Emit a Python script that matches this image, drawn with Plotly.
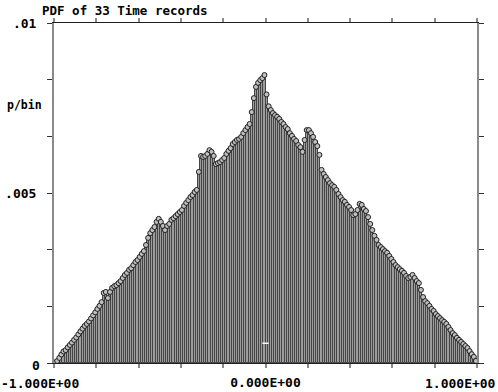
import plotly.graph_objects as go

# PDF values per bin (200 bins from -1 to 1, width 0.01)
pdf_values = [
    0.000015, 0.00006, 0.00015, 0.00025, 0.00034, 0.00038, 0.00046, 0.00053, 0.00060, 0.00068,
    0.00075, 0.00084, 0.00093, 0.00101, 0.00109, 0.00115, 0.00122, 0.00131, 0.00140, 0.00149,
    0.00159, 0.00168, 0.00179, 0.00206, 0.00209, 0.00191, 0.00209, 0.00221, 0.00226, 0.00229,
    0.00235, 0.00241, 0.00250, 0.00259, 0.00265, 0.00274, 0.00279, 0.00288, 0.00297, 0.00303,
    0.00312, 0.00321, 0.00329, 0.00347, 0.00368, 0.00382, 0.00391, 0.00400, 0.00415, 0.00424,
    0.00415, 0.00403, 0.00391, 0.00403, 0.00409, 0.00421, 0.00426, 0.00432, 0.00438, 0.00444,
    0.00450, 0.00462, 0.00471, 0.00479, 0.00488, 0.00494, 0.00503, 0.00509, 0.00562, 0.00609,
    0.00606, 0.00609, 0.00615, 0.00626, 0.00621, 0.00609, 0.00585, 0.00588, 0.00591, 0.00597,
    0.00603, 0.00615, 0.00624, 0.00632, 0.00644, 0.00650, 0.00656, 0.00659, 0.00665, 0.00676,
    0.00685, 0.00694, 0.00703, 0.00738, 0.00779, 0.00812, 0.00824, 0.00832, 0.00838, 0.00847,
    0.00790, 0.00755, 0.00744, 0.00735, 0.00729, 0.00724, 0.00718, 0.00709, 0.00703, 0.00694,
    0.00688, 0.00676, 0.00668, 0.00659, 0.00653, 0.00641, 0.00635, 0.00621, 0.00656, 0.00685,
    0.00685, 0.00676, 0.00665, 0.00650, 0.00638, 0.00612, 0.00568, 0.00556, 0.00547, 0.00538,
    0.00529, 0.00523, 0.00518, 0.00509, 0.00497, 0.00488, 0.00479, 0.00474, 0.00465, 0.00459,
    0.00450, 0.00435, 0.00438, 0.00450, 0.00468, 0.00465, 0.00453, 0.00447, 0.00429, 0.00409,
    0.00391, 0.00374, 0.00362, 0.00347, 0.00341, 0.00335, 0.00329, 0.00324, 0.00315, 0.00306,
    0.00297, 0.00288, 0.00282, 0.00276, 0.00271, 0.00265, 0.00256, 0.00250, 0.00253, 0.00259,
    0.00250, 0.00241, 0.00235, 0.00215, 0.00194, 0.00182, 0.00176, 0.00168, 0.00159, 0.00153,
    0.00144, 0.00138, 0.00132, 0.00126, 0.00121, 0.00115, 0.00106, 0.00097, 0.00088, 0.00082,
    0.00074, 0.00068, 0.00062, 0.00056, 0.00050, 0.00044, 0.00035, 0.00026, 0.00018, 0.00006,
]
bin_start_center = -0.995
bin_width = 0.01

x_tickvals = [-1.0, -0.8, -0.6, -0.4, -0.2, 0.0, 0.2, 0.4, 0.6, 0.8, 1.0]
x_ticktext = ["", "", "", "", "", "0.000E+00", "", "", "", "", ""]
x_end_labels = ["-1.000E+00", "1.000E+00"]
y_tickvals = [0.0, 0.0016667, 0.0033333, 0.005, 0.0066667, 0.0083333, 0.01]
y_ticktext = ["", "", "", ".005", "", "", ".01"]
y_zero_label = "0"
mean_marker_level = 0.00058

title_text = "PDF of 33 Time records"
y_label = "p/bin"

FONT = "DejaVu Sans Mono"
TICK_SIZE = 13
tick_font = dict(family=FONT, size=TICK_SIZE, color="black", weight="bold")

fig = go.Figure()
fig.add_trace(go.Bar(
    x0=bin_start_center, dx=bin_width, y=pdf_values,
    marker=dict(color="#9c9c9c", line=dict(color="#454545", width=1)),
    width=bin_width,
    showlegend=False, hoverinfo="skip",
))
fig.add_trace(go.Scatter(
    x0=bin_start_center, dx=bin_width, y=pdf_values,
    mode="markers",
    marker=dict(symbol="circle", size=5, color="#c0c0c0",
                line=dict(color="#202020", width=1)),
    showlegend=False, hoverinfo="skip",
))

fig.add_shape(type="line", xref="x", yref="y",
              x0=-0.015, x1=0.015, y0=mean_marker_level, y1=mean_marker_level,
              line=dict(color="white", width=1.5), layer="above")

annotations = [
    dict(text=y_label, xref="paper", yref="paper", x=0, y=0.759,
         xanchor="right", yanchor="middle", xshift=-10, showarrow=False,
         font=dict(family=FONT, size=11.5, color="black", weight="bold")),
    dict(text=x_end_labels[0], xref="paper", yref="paper", x=0, y=0,
         xanchor="left", yanchor="middle", xshift=-54, yshift=-20, showarrow=False,
         borderpad=0, font=tick_font),
    dict(text=x_end_labels[1], xref="paper", yref="paper", x=1, y=0,
         xanchor="right", yanchor="middle", xshift=20, yshift=-20, showarrow=False,
         borderpad=0, font=tick_font),
    dict(text=y_zero_label, xref="paper", yref="paper", x=0, y=0,
         xanchor="right", yanchor="middle", xshift=-13, yshift=-2, showarrow=False,
         borderpad=0, font=tick_font),
]

fig.update_layout(
    width=498, height=392,
    margin=dict(l=54, r=21, t=23, b=29, autoexpand=False),
    paper_bgcolor="white", plot_bgcolor="white",
    bargap=0,
    font=dict(family=FONT, size=TICK_SIZE, color="black", weight="bold"),
    title=dict(text=title_text, x=42/498, xanchor="left", xref="container",
               y=1-11/392, yanchor="middle", yref="container",
               font=dict(family=FONT, size=12.5, color="black", weight="bold")),
    xaxis=dict(range=[-1, 1], tickvals=x_tickvals, ticktext=x_ticktext,
               showgrid=False, zeroline=False, automargin=False,
               showline=True, linecolor="#202020", linewidth=1, mirror="ticks",
               ticks="outside", ticklen=4, tickwidth=2, tickcolor="#8a8a8a",
               ticklabelstandoff=3, ticklabeloverflow="allow",
               tickfont=tick_font),
    yaxis=dict(range=[0, 0.01], tickvals=y_tickvals, ticktext=y_ticktext,
               showgrid=False, zeroline=False, automargin=False,
               showline=True, linecolor="#8a8a8a", linewidth=2, mirror="ticks",
               ticks="outside", ticklen=5, tickwidth=1, tickcolor="#303030",
               ticklabelstandoff=8, ticklabeloverflow="allow",
               tickfont=tick_font),
    annotations=annotations,
)

fig.write_html("out.html")
